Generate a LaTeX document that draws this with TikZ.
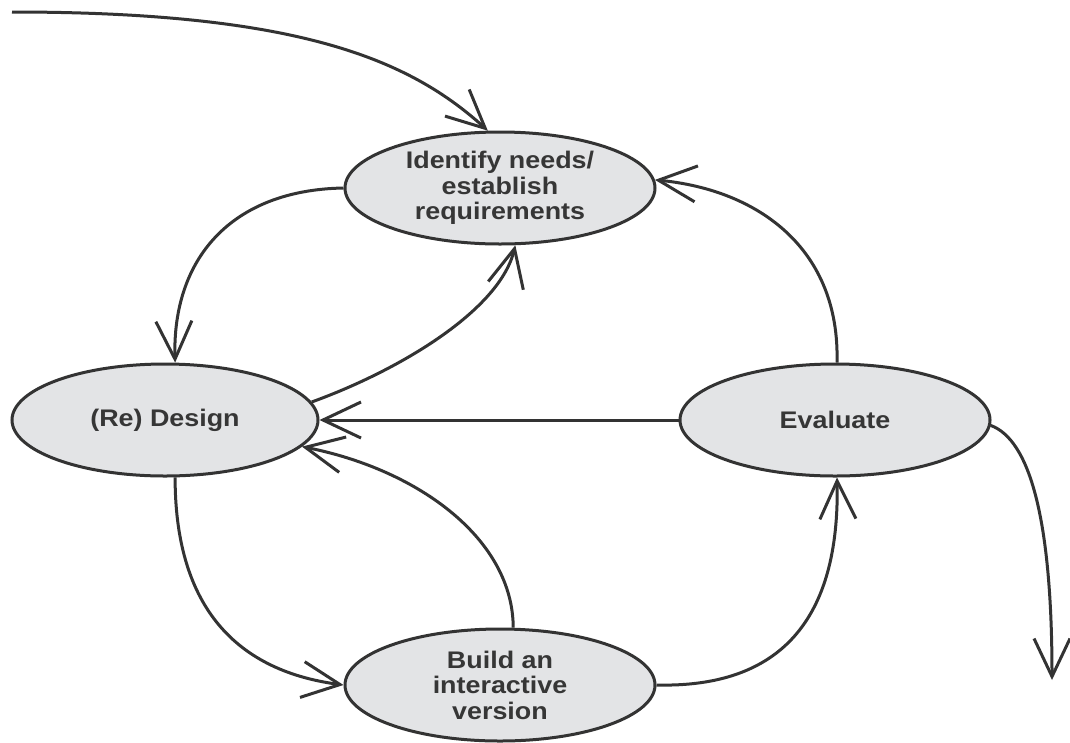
\documentclass[tikz,border=0pt]{standalone}
\usepackage{fontspec}
\setmainfont{Liberation Sans}
\newfontfamily\stagefont[FakeStretch=1.12]{Liberation Sans}
\usetikzlibrary{shapes.geometric,arrows.meta}
\definecolor{linegray}{HTML}{333333}
\definecolor{fillgray}{HTML}{E3E4E6}
\definecolor{textgray}{HTML}{363636}
\begin{document}
\begin{tikzpicture}[x=1pt,y=-1pt,
  stage/.style={ellipse, draw=linegray, fill=fillgray, line width=3pt,
    minimum width=310pt, minimum height=112pt, inner sep=0pt,
    align=center, text=textgray,
    font=\stagefont\fontsize{24}{25.5}\selectfont\bfseries},
  flow/.style={draw=linegray, line width=3pt,
    -{Straight Barb[length=38pt,width=36pt,line join=miter]}}]
\useasboundingbox (0,0) rectangle (1070,742);

% the four stages of the cycle
\node[stage] (ident) at (500,188) {Identify needs/\\establish\\requirements};
\node[stage, minimum width=306pt] (design) at (165,420) {(Re) Design};
\node[stage] (eval) at (835,420) {Evaluate};
\node[stage] (build) at (500,685) {Build an\\interactive\\version};

% entry and exit of the cycle
\coordinate (entry) at (12,12);
\coordinate (exit) at (1052,680);

\draw[flow] (entry) .. controls (300,12) and (410,60) .. (ident.102);
\draw[flow] (ident.180) .. controls (230,190) and (172,260) .. (design.80);
\draw[flow] (design.7) .. controls (400,370) and (500,310) .. (ident.-75);
\draw[flow] (eval.88) .. controls (840,250) and (760,190) .. (ident.3);
\draw[flow] (eval.180) -- (design.0);
\draw[flow] (build.77) .. controls (513,540) and (420,470) .. (design.-11);
\draw[flow] (design.-80) .. controls (175,600) and (230,670) .. (build.180);
\draw[flow] (build.0) .. controls (780,688) and (840,620) .. (eval.-88);
\draw[flow] (eval.-2) .. controls (1030,440) and (1052,520) .. (exit);
\end{tikzpicture}
\end{document}
